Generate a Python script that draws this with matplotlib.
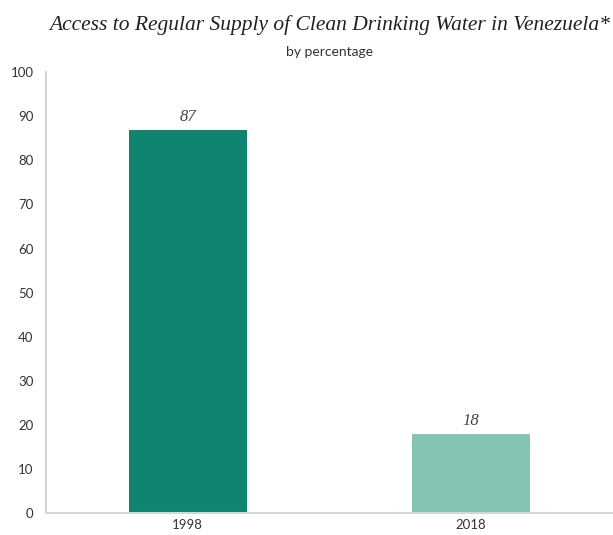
import matplotlib.pyplot as plt

# access to drinking water, % of population
anios = ['1998', '2018']
porcentaje = [87, 18]
cores = ['#10846e', '#86c4b2']

plt.rcParams['font.family'] = ['Lato', 'DejaVu Sans']

fig = plt.figure(figsize=(6.13, 5.35), dpi=100)
ax = fig.add_axes([0.075, 0.041, 0.925, 0.824])

pos = range(len(anios))
barras = ax.bar(pos, porcentaje, width=0.415, color=cores)

for b, v in zip(barras, porcentaje):
    ax.text(b.get_x() + b.get_width() / 2, v + 1.0, str(v), ha='center', va='bottom',
            family='Liberation Serif', style='italic', fontsize=12, color='#444444')

ax.set_xlim(-0.5, 1.5)
ax.set_ylim(0, 100)
ax.set_yticks(range(0, 101, 10))
ax.set_xticks(list(pos))
ax.set_xticklabels(anios)
ax.tick_params(length=0, labelsize=9.5, labelcolor='#333333')
ax.tick_params(axis='y', pad=9)
ax.tick_params(axis='x', pad=4)

for s in ['top', 'right']:
    ax.spines[s].set_visible(False)
for s in ['left', 'bottom']:
    ax.spines[s].set_color('#d6d6d6')
    ax.spines[s].set_linewidth(1.5)

fig.text(0.537, 0.953, 'Access to Regular Supply of Clean Drinking Water in Venezuela*',
         ha='center', va='center', family='Liberation Serif', style='italic', fontsize=15.5, color='#222222')
fig.text(0.537, 0.902, 'by percentage', ha='center', va='center', fontsize=10, color='#333333')

fig.savefig('out.png', dpi=100)
